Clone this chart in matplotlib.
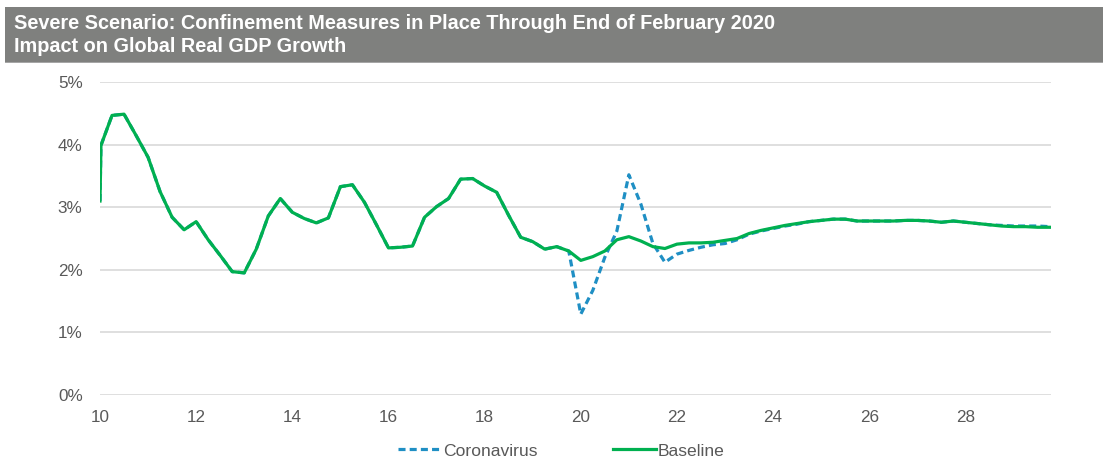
import numpy as np
import matplotlib
matplotlib.use("Agg")
import matplotlib.pyplot as plt
from matplotlib.patches import Rectangle

plt.rcParams['font.family'] = ['Liberation Sans', 'DejaVu Sans']

title1 = "Severe Scenario: Confinement Measures in Place Through End of February 2020"
title2 = "Impact on Global Real GDP Growth"

# quarterly points, first one is the start of the series
x = [10.0, 10.02] + list(np.arange(10.25, 29.76, 0.25))

baseline = [3.10, 3.99, 4.47, 4.49, 4.15, 3.80, 3.25, 2.84, 2.64, 2.77,
            2.48, 2.23, 1.97, 1.95, 2.33, 2.86, 3.14, 2.92, 2.82, 2.75,
            2.83, 3.33, 3.36, 3.08, 2.72, 2.35, 2.36, 2.38, 2.84, 3.01,
            3.14, 3.45, 3.46, 3.34, 3.24, 2.87, 2.52, 2.45, 2.33, 2.37,
            2.30, 2.15, 2.21, 2.30, 2.48, 2.53, 2.46, 2.37, 2.34, 2.41,
            2.43, 2.43, 2.44, 2.47, 2.50, 2.58, 2.63, 2.67, 2.71, 2.74,
            2.77, 2.79, 2.81, 2.81, 2.78, 2.78, 2.78, 2.78, 2.79, 2.79,
            2.78, 2.76, 2.78, 2.76, 2.74, 2.72, 2.70, 2.69, 2.69, 2.68,
            2.68]

coronavirus = [3.10, 3.99, 4.47, 4.49, 4.15, 3.80, 3.25, 2.84, 2.64, 2.77,
               2.48, 2.23, 1.97, 1.95, 2.33, 2.86, 3.14, 2.92, 2.82, 2.75,
               2.83, 3.33, 3.36, 3.08, 2.72, 2.35, 2.36, 2.38, 2.84, 3.01,
               3.14, 3.45, 3.46, 3.34, 3.24, 2.87, 2.52, 2.45, 2.33, 2.37,
               2.30, 1.29, 1.67, 2.20, 2.62, 3.52, 3.05, 2.42, 2.12, 2.25,
               2.31, 2.36, 2.40, 2.42, 2.48, 2.57, 2.62, 2.66, 2.70, 2.73,
               2.77, 2.79, 2.81, 2.81, 2.78, 2.78, 2.78, 2.78, 2.79, 2.79,
               2.78, 2.76, 2.78, 2.76, 2.74, 2.72, 2.71, 2.70, 2.70, 2.70,
               2.69]

xticks = [10, 12, 14, 16, 18, 20, 22, 24, 26, 28]
yticks = [0, 1, 2, 3, 4, 5]

fig = plt.figure(figsize=(11.03, 4.59), dpi=100)

# grey header band
fig.patches.append(Rectangle((5 / 1103, 1 - 62 / 459), 1 - 5 / 1103, 55 / 459,
                             transform=fig.transFigure, facecolor='#7f807e',
                             edgecolor='none', zorder=0))
fig.patches.append(Rectangle((5 / 1103, 1 - 63 / 459), 1 - 5 / 1103, 1.5 / 459,
                             transform=fig.transFigure, facecolor='#a6a6a6',
                             edgecolor='none', zorder=0))
fig.text(14 / 1103, 1 - 23.5 / 459, title1, color='white', fontsize=14.3,
         fontweight='bold', va='center', ha='left')
fig.text(14 / 1103, 1 - 46.5 / 459, title2, color='white', fontsize=14.3,
         fontweight='bold', va='center', ha='left')

ax = fig.add_axes([100 / 1103, 0.140, 951 / 1103, 0.6807])
ax.plot(x, coronavirus, color='#1f8fc4', lw=2.3, ls=(0, (2.2, 1.3)),
        label='Coronavirus', zorder=3)
ax.plot(x, baseline, color='#00b050', lw=2.3, label='Baseline', zorder=4)

ax.set_xlim(10, 29.78)
ax.set_ylim(0, 5)
ax.set_xticks(xticks)
ax.set_yticks(yticks)
ax.set_yticklabels([f"{v}%" for v in yticks])
ax.grid(axis='y', color='#d9d9d9', lw=1.2)
ax.set_axisbelow(True)
for s in ax.spines.values():
    s.set_visible(False)
ax.tick_params(length=0, labelsize=12.3, labelcolor='#595959')
ax.tick_params(axis='x', pad=11)
ax.tick_params(axis='y', pad=12.5)

ax.legend(loc='center', bbox_to_anchor=(0.485, -0.18), ncol=2, frameon=False,
          fontsize=12.6, labelcolor='#595959', handlelength=2.45,
          handletextpad=0.1, columnspacing=4.3)

fig.savefig('out.png', dpi=100)
